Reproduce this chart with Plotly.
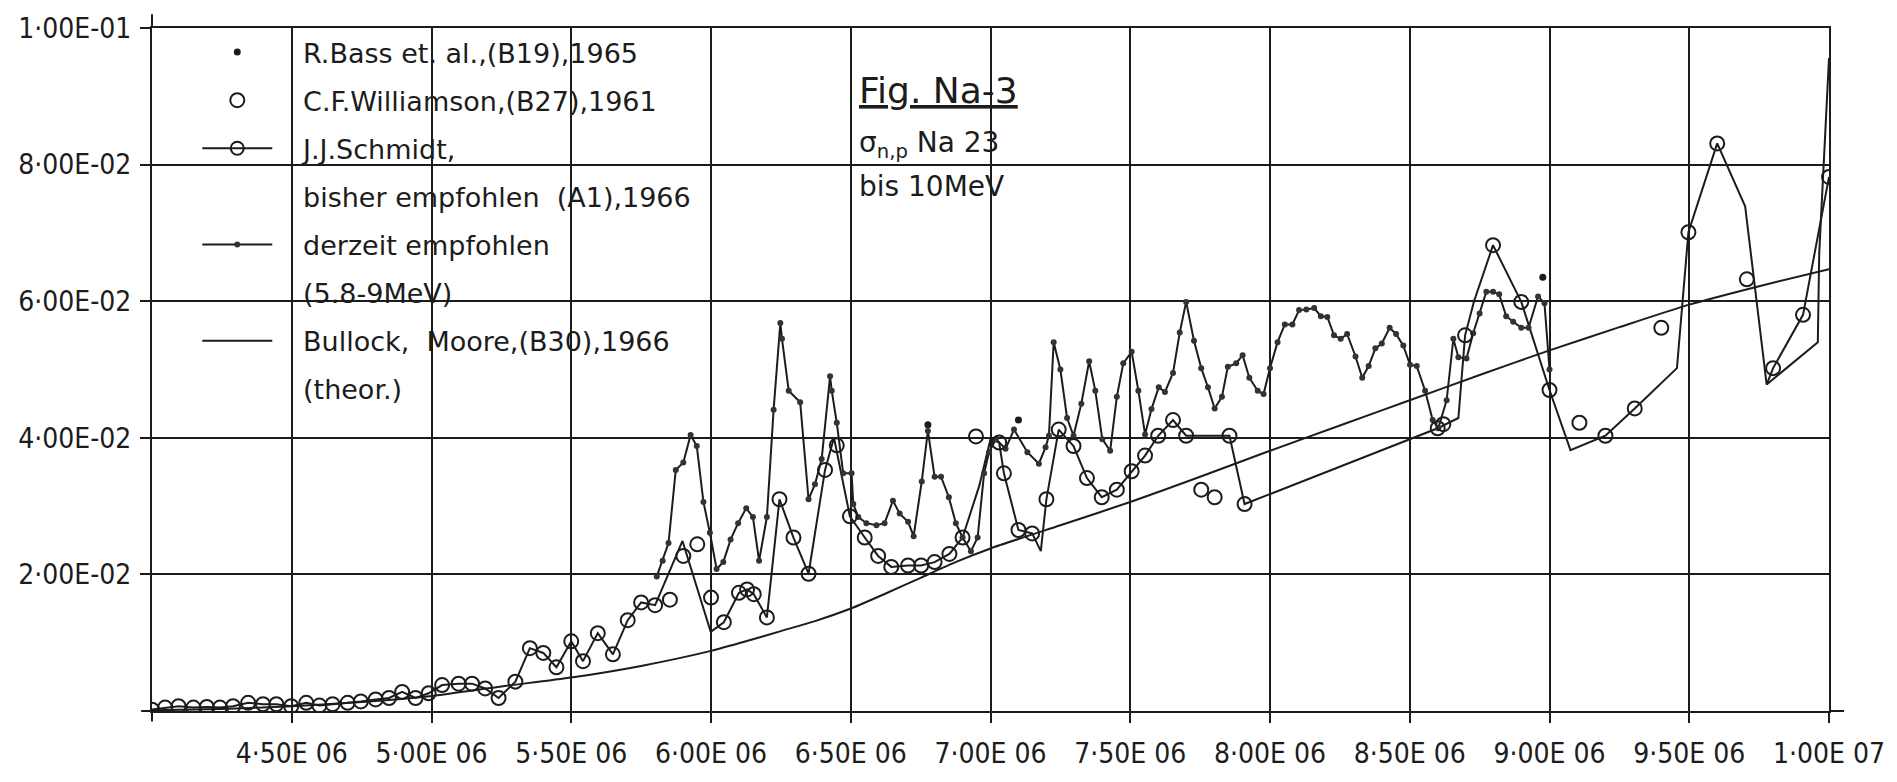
import plotly.graph_objects as go

# ---------------- data (E in MeV, sigma in barn) ----------------
bass_pts = [(6.776, 0.0419), (7.100, 0.0426), (8.976, 0.0635)]

williamson_pts = [
    (4.000, 0.0002), (4.047, 0.0005), (4.095, 0.0007), (4.148, 0.0005), (4.196, 0.0006),
    (4.243, 0.0005), (4.290, 0.0007), (4.344, 0.0012), (4.397, 0.0010), (4.445, 0.0010),
    (4.498, 0.0007), (4.552, 0.0012), (4.599, 0.0008), (4.646, 0.0010), (4.700, 0.0012),
    (4.747, 0.0014), (4.800, 0.0017), (4.848, 0.0019), (4.895, 0.0028), (4.943, 0.0019),
    (4.990, 0.0026), (5.038, 0.0038), (5.097, 0.0040), (5.145, 0.0040), (5.192, 0.0033),
    (5.240, 0.0019), (5.300, 0.0043), (5.352, 0.0092), (5.400, 0.0085), (5.447, 0.0064),
    (5.500, 0.0102), (5.542, 0.0073), (5.595, 0.0114), (5.649, 0.0083), (5.702, 0.0133),
    (5.750, 0.0159), (5.800, 0.0155), (5.853, 0.0163), (5.901, 0.0227), (5.951, 0.0244),
    (6.000, 0.0166), (6.046, 0.0130), (6.100, 0.0173), (6.129, 0.0178), (6.153, 0.0171),
    (6.200, 0.0137), (6.245, 0.0310), (6.295, 0.0254), (6.349, 0.0201), (6.408, 0.0353),
    (6.450, 0.0389), (6.497, 0.0285), (6.550, 0.0254), (6.598, 0.0227), (6.645, 0.0211),
    (6.705, 0.0213), (6.752, 0.0213), (6.800, 0.0218), (6.853, 0.0230), (6.900, 0.0254),
    (6.948, 0.0402), (7.031, 0.0393), (7.048, 0.0348), (7.100, 0.0265), (7.149, 0.0260),
    (7.200, 0.0310), (7.244, 0.0412), (7.297, 0.0388), (7.345, 0.0341), (7.398, 0.0313),
    (7.452, 0.0324), (7.505, 0.0351), (7.553, 0.0374), (7.600, 0.0403), (7.653, 0.0426),
    (7.700, 0.0403), (7.754, 0.0324), (7.802, 0.0313), (7.855, 0.0403), (7.909, 0.0303),
    (8.600, 0.0414), (8.620, 0.0420), (8.698, 0.0550), (8.798, 0.0682), (8.899, 0.0599),
    (9.000, 0.0470), (9.107, 0.0422), (9.200, 0.0403), (9.305, 0.0443), (9.400, 0.0561),
    (9.497, 0.0701), (9.600, 0.0831), (9.706, 0.0632), (9.800, 0.0502), (9.907, 0.0580),
    (10.000, 0.0782),
]

schmidt_pts = [
    (4.000, 0.0002), (4.047, 0.0005), (4.095, 0.0007), (4.148, 0.0005), (4.196, 0.0006),
    (4.243, 0.0005), (4.290, 0.0007), (4.344, 0.0012), (4.397, 0.0010), (4.445, 0.0010),
    (4.498, 0.0007), (4.552, 0.0012), (4.599, 0.0008), (4.646, 0.0010), (4.700, 0.0012),
    (4.747, 0.0014), (4.800, 0.0017), (4.848, 0.0019), (4.895, 0.0028), (4.943, 0.0019),
    (4.990, 0.0026), (5.038, 0.0038), (5.097, 0.0040), (5.145, 0.0040), (5.192, 0.0033),
    (5.240, 0.0019), (5.300, 0.0043), (5.352, 0.0092), (5.400, 0.0085), (5.447, 0.0064),
    (5.500, 0.0102), (5.542, 0.0073), (5.595, 0.0114), (5.649, 0.0083), (5.702, 0.0133),
    (5.750, 0.0159), (5.800, 0.0155), (5.898, 0.0249), (5.999, 0.0116), (6.046, 0.0130),
    (6.100, 0.0173), (6.129, 0.0178), (6.153, 0.0171), (6.200, 0.0137), (6.245, 0.0310),
    (6.295, 0.0254), (6.349, 0.0201), (6.408, 0.0353), (6.440, 0.0400), (6.497, 0.0285),
    (6.550, 0.0254), (6.598, 0.0227), (6.645, 0.0211), (6.705, 0.0213), (6.752, 0.0213),
    (6.800, 0.0218), (6.853, 0.0230), (6.900, 0.0254), (6.960, 0.0330), (7.000, 0.0398),
    (7.031, 0.0393), (7.048, 0.0348), (7.100, 0.0265), (7.149, 0.0260), (7.180, 0.0234),
    (7.200, 0.0310), (7.244, 0.0412), (7.297, 0.0388), (7.345, 0.0341), (7.398, 0.0313),
    (7.452, 0.0324), (7.505, 0.0351), (7.553, 0.0374), (7.600, 0.0403), (7.653, 0.0426),
    (7.700, 0.0403), (7.855, 0.0403), (7.909, 0.0303), (8.600, 0.0414), (8.674, 0.0429),
    (8.698, 0.0550), (8.730, 0.0600), (8.798, 0.0682), (8.899, 0.0599), (9.000, 0.0470),
    (9.075, 0.0382), (9.200, 0.0403), (9.305, 0.0443), (9.456, 0.0502), (9.497, 0.0701),
    (9.600, 0.0831), (9.700, 0.0739), (9.733, 0.0625), (9.777, 0.0478), (9.800, 0.0502),
    (9.907, 0.0580), (10.000, 0.0782),
]

schmidt_branch_pts = [(9.777, 0.0478), (9.960, 0.0540), (9.965, 0.0670), (9.990, 0.0876), (10.000, 0.0956)]

derzeit_pts = [
    (5.806, 0.0197), (5.827, 0.0220), (5.848, 0.0246), (5.874, 0.0353), (5.901, 0.0364),
    (5.927, 0.0404), (5.949, 0.0388), (5.973, 0.0306), (5.996, 0.0261), (6.020, 0.0208),
    (6.044, 0.0218), (6.070, 0.0251), (6.097, 0.0275), (6.126, 0.0297), (6.150, 0.0284),
    (6.172, 0.0220), (6.200, 0.0284), (6.224, 0.0441), (6.248, 0.0568), (6.254, 0.0545),
    (6.278, 0.0469), (6.319, 0.0452), (6.349, 0.0310), (6.372, 0.0332), (6.396, 0.0369),
    (6.426, 0.0490), (6.432, 0.0469), (6.450, 0.0422), (6.473, 0.0348), (6.503, 0.0348),
    (6.509, 0.0303), (6.527, 0.0284), (6.556, 0.0275), (6.592, 0.0272), (6.621, 0.0275),
    (6.651, 0.0308), (6.675, 0.0289), (6.705, 0.0277), (6.725, 0.0256), (6.754, 0.0336),
    (6.776, 0.0410), (6.800, 0.0343), (6.823, 0.0343), (6.851, 0.0313), (6.876, 0.0275),
    (6.900, 0.0254), (6.930, 0.0234), (6.954, 0.0254), (6.977, 0.0348), (6.995, 0.0379),
    (7.019, 0.0398), (7.054, 0.0384), (7.084, 0.0412), (7.132, 0.0379), (7.173, 0.0362),
    (7.197, 0.0386), (7.209, 0.0403), (7.226, 0.0540), (7.250, 0.0500), (7.274, 0.0429),
    (7.297, 0.0403), (7.325, 0.0450), (7.353, 0.0512), (7.375, 0.0469), (7.400, 0.0398),
    (7.428, 0.0381), (7.452, 0.0460), (7.475, 0.0509), (7.505, 0.0526), (7.529, 0.0469),
    (7.553, 0.0405), (7.576, 0.0442), (7.602, 0.0474), (7.624, 0.0467), (7.653, 0.0495),
    (7.677, 0.0554), (7.700, 0.0599), (7.728, 0.0542), (7.754, 0.0502), (7.778, 0.0474),
    (7.802, 0.0443), (7.828, 0.0460), (7.849, 0.0504), (7.879, 0.0509), (7.902, 0.0521),
    (7.926, 0.0488), (7.956, 0.0469), (7.977, 0.0464), (8.000, 0.0502), (8.027, 0.0540),
    (8.053, 0.0566), (8.080, 0.0566), (8.104, 0.0587), (8.130, 0.0588), (8.158, 0.0590),
    (8.182, 0.0578), (8.205, 0.0577), (8.229, 0.0550), (8.253, 0.0545), (8.276, 0.0552),
    (8.306, 0.0519), (8.330, 0.0488), (8.353, 0.0505), (8.377, 0.0531), (8.400, 0.0538),
    (8.428, 0.0561), (8.451, 0.0552), (8.477, 0.0535), (8.501, 0.0507), (8.525, 0.0505),
    (8.555, 0.0469), (8.582, 0.0426), (8.602, 0.0414), (8.632, 0.0455), (8.656, 0.0545),
    (8.674, 0.0518), (8.703, 0.0516), (8.727, 0.0553), (8.750, 0.0582), (8.774, 0.0614),
    (8.798, 0.0614), (8.820, 0.0610), (8.845, 0.0578), (8.870, 0.0570), (8.899, 0.0561),
    (8.925, 0.0561), (8.959, 0.0607), (8.982, 0.0597), (9.000, 0.0500),
]

bullock_pts = [
    (4.00, 0.0001), (4.25, 0.0003), (4.50, 0.0007), (4.75, 0.0013), (5.00, 0.0022),
    (5.25, 0.0036), (5.50, 0.0049), (5.75, 0.0066), (6.00, 0.0088), (6.125, 0.0102),
    (6.25, 0.0117), (6.375, 0.0132), (6.50, 0.0150), (6.625, 0.0172), (6.75, 0.0195),
    (6.875, 0.0218), (7.00, 0.0238), (7.25, 0.0272), (7.50, 0.0306), (7.75, 0.0343),
    (8.00, 0.0381), (8.25, 0.0418), (8.50, 0.0455), (8.75, 0.0492), (9.00, 0.0528),
    (9.25, 0.0562), (9.50, 0.0595), (9.75, 0.0622), (10.00, 0.0647),
]

x_tick_mev = [4.5, 5.0, 5.5, 6.0, 6.5, 7.0, 7.5, 8.0, 8.5, 9.0, 9.5, 10.0]
x_tick_text = ["4·50E 06", "5·00E 06", "5·50E 06", "6·00E 06", "6·50E 06", "7·00E 06",
               "7·50E 06", "8·00E 06", "8·50E 06", "9·00E 06", "9·50E 06", "1·00E 07"]
y_tick_vals = [0.02, 0.04, 0.06, 0.08, 0.10]
y_tick_text = ["2·00E-02", "4·00E-02", "6·00E-02", "8·00E-02", "1·00E-01"]

# ---------------- figure ----------------
INK = "#1c1c1c"
EV = 1e6
PAD = "\u00a0\u00a0\u00a0"


def xs(pts):
    return [p[0] * EV for p in pts]


def ys(pts):
    return [p[1] for p in pts]


fig = go.Figure()

fig.add_trace(go.Scatter(x=xs(bullock_pts), y=ys(bullock_pts), mode="lines",
                         line=dict(color=INK, width=2, shape="spline", smoothing=0.6),
                         name=PAD + "Bullock,  Moore,(B30),1966",
                         legendgroup="g7", legendrank=7))
fig.add_trace(go.Scatter(x=xs(schmidt_pts), y=ys(schmidt_pts), mode="lines",
                         line=dict(color=INK, width=2), showlegend=False))
fig.add_trace(go.Scatter(x=xs(schmidt_branch_pts), y=ys(schmidt_branch_pts), mode="lines",
                         line=dict(color=INK, width=2), showlegend=False))
fig.add_trace(go.Scatter(x=xs(derzeit_pts), y=ys(derzeit_pts), mode="lines+markers",
                         line=dict(color=INK, width=2),
                         marker=dict(symbol="circle", size=6, color="#333333"),
                         name=PAD + "derzeit empfohlen", legendgroup="g5", legendrank=5))
fig.add_trace(go.Scatter(x=xs(williamson_pts), y=ys(williamson_pts), mode="markers",
                         marker=dict(symbol="circle-open", size=14, color=INK, line=dict(width=2)),
                         name=PAD + "C.F.Williamson,(B27),1961", legendgroup="g2", legendrank=2))
fig.add_trace(go.Scatter(x=xs(bass_pts), y=ys(bass_pts), mode="markers",
                         marker=dict(symbol="circle", size=7, color=INK),
                         name=PAD + "R.Bass et. al.,(B19),1965", legendgroup="g1", legendrank=1))
# legend-only entries (no data)
fig.add_trace(go.Scatter(x=[None], y=[None], mode="lines+markers",
                         line=dict(color=INK, width=2),
                         marker=dict(symbol="circle-open", size=13, color=INK, line=dict(width=2)),
                         name=PAD + "J.J.Schmidt,", legendgroup="g3", legendrank=3))
for rank, label in [(4, "bisher empfohlen  (A1),1966"), (6, "(5.8-9MeV)"), (8, "(theor.)")]:
    fig.add_trace(go.Scatter(x=[None], y=[None], mode="lines",
                             line=dict(color="rgba(0,0,0,0)", width=1),
                             name=PAD + label, legendgroup="g%d" % rank, legendrank=rank))

tick_font = dict(family="DejaVu Sans Condensed, Liberation Sans Narrow, DejaVu Sans", size=28, color=INK)
axis_common = dict(showgrid=True, gridcolor=INK, gridwidth=2, showline=True, linecolor=INK,
                   linewidth=2, mirror=True, ticks="outside", ticklen=10, tickwidth=2,
                   tickcolor=INK, zeroline=False, tickfont=tick_font)

fig.update_xaxes(range=[4.0 * EV, 10.0 * EV], tickmode="array",
                 tickvals=[v * EV for v in x_tick_mev], ticktext=x_tick_text,
                 ticklabelstandoff=6, **axis_common)
fig.update_yaxes(range=[0, 0.1], tickmode="array", tickvals=y_tick_vals, ticktext=y_tick_text,
                 ticklabelstandoff=3, **axis_common)

ann_font = dict(family="DejaVu Sans", color=INK)
fig.update_layout(
    width=1897, height=782,
    margin=dict(l=152, r=59, t=24, b=55),
    paper_bgcolor="white", plot_bgcolor="white",
    showlegend=True,
    legend=dict(x=0.027, y=1.0, xanchor="left", yanchor="top", bgcolor="rgba(0,0,0,0)",
                font=dict(family="DejaVu Sans", size=27, color=INK), itemwidth=70,
                traceorder="grouped", tracegroupgap=10),
    annotations=[
        dict(text="<u>Fig. Na-3</u>", x=0.4205, y=0.909, xref="paper", yref="paper",
             xanchor="left", yanchor="middle", showarrow=False, font=dict(size=36, **ann_font)),
        dict(text="σ<sub>n,p</sub> Na 23", x=0.4205, y=0.830, xref="paper", yref="paper",
             xanchor="left", yanchor="middle", showarrow=False, font=dict(size=28, **ann_font)),
        dict(text="bis 10MeV", x=0.4205, y=0.768, xref="paper", yref="paper",
             xanchor="left", yanchor="middle", showarrow=False, font=dict(size=28, **ann_font)),
    ],
    shapes=[
        # axis stubs of the plotter frame
        dict(type="line", xref="paper", yref="paper", x0=0, x1=0, y0=1, y1=1.02,
             line=dict(color=INK, width=2)),
        dict(type="line", xref="paper", yref="paper", x0=1, x1=1.009, y0=0, y1=0,
             line=dict(color=INK, width=2)),
        dict(type="line", xref="paper", yref="paper", x0=-0.0065, x1=0, y0=0, y1=0,
             line=dict(color=INK, width=2)),
        dict(type="line", xref="paper", yref="paper", x0=0, x1=0, y0=-0.0155, y1=0,
             line=dict(color=INK, width=2)),
    ],
)

fig.write_html("out.html")
